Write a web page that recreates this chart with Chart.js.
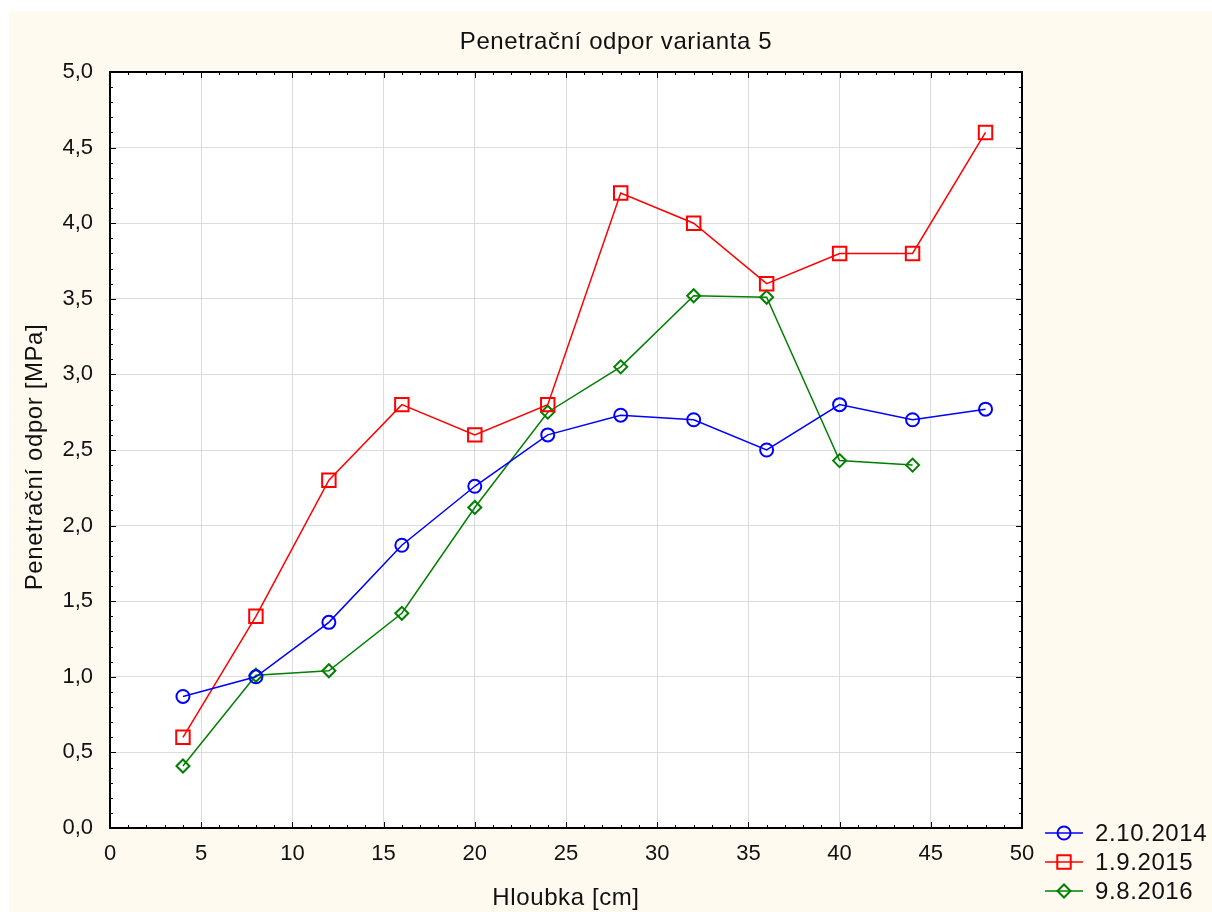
<!DOCTYPE html>
<html>
<head>
<meta charset="utf-8">
<script src="https://cdn.jsdelivr.net/npm/chart.js@4.4.0/dist/chart.umd.min.js"></script>
<style>
    body { margin: 0; background: #ffffff; }
    canvas { display: block; }
</style>
</head>
<body>
<canvas id="canvas" width="1212" height="912"></canvas>
<script>
const depth = [4, 8, 12, 16, 20, 24, 28, 32, 36, 40, 44, 48];
const odpor2014 = [0.87, 1.0, 1.36, 1.87, 2.26, 2.6, 2.73, 2.7, 2.5, 2.8, 2.7, 2.77];
const odpor2015 = [0.6, 1.4, 2.3, 2.8, 2.6, 2.8, 4.2, 4.0, 3.6, 3.8, 3.8, 4.6];
const odpor2016 = [0.41, 1.01, 1.04, 1.42, 2.12, 2.75, 3.05, 3.52, 3.51, 2.43, 2.4];
const seriesNames = ['2.10.2014', '1.9.2015', '9.8.2016'];

const titleText = 'Penetrační odpor varianta 5';
const xTitle = 'Hloubka [cm]';
const yTitle = 'Penetrační odpor [MPa]';

const font = "'Liberation Sans', Arial, sans-serif";
const textFont = '24px ' + font;

function toPoints(values) {
    return values.map((v, i) => ({ x: depth[i], y: v }));
}

function marker(ctx, style, x, y, r) {
    ctx.beginPath();
    if (style === 'circle') {
        ctx.arc(x, y, r, 0, Math.PI * 2);
    } else if (style === 'rect') {
        const s = r * Math.SQRT1_2;
        ctx.rect(x - s, y - s, 2 * s, 2 * s);
    } else {
        ctx.moveTo(x - r, y);
        ctx.lineTo(x, y - r);
        ctx.lineTo(x + r, y);
        ctx.lineTo(x, y + r);
        ctx.closePath();
    }
    ctx.stroke();
}

// frame, background, inward ticks on all four sides, titles and legend
const framePlugin = {
    id: 'frame',
    beforeDraw(chart) {
        const ctx = chart.ctx;
        const a = chart.chartArea;
        ctx.save();
        ctx.fillStyle = '#ffffff';
        ctx.fillRect(0, 0, chart.width, chart.height);
        ctx.fillStyle = '#fffaf0';
        ctx.fillRect(9, 11, chart.width - 9, chart.height - 11);
        ctx.fillStyle = '#ffffff';
        ctx.fillRect(a.left, a.top, a.right - a.left, a.bottom - a.top);
        ctx.restore();
    },
    afterDraw(chart) {
        const ctx = chart.ctx;
        const a = chart.chartArea;
        const xs = chart.scales.x;
        const ys = chart.scales.y;
        ctx.save();
        ctx.strokeStyle = '#000000';
        ctx.lineWidth = 1;
        ctx.beginPath();
        for (let v = 0; v <= 50; v++) {
            const px = Math.round(xs.getPixelForValue(v)) + 0.5;
            const len = v % 5 === 0 ? 6 : 3;
            ctx.moveTo(px, a.bottom);
            ctx.lineTo(px, a.bottom - len);
            ctx.moveTo(px, a.top);
            ctx.lineTo(px, a.top + len);
        }
        for (let k = 0; k <= 50; k++) {
            const py = Math.round(ys.getPixelForValue(k / 10)) + 0.5;
            const len = k % 5 === 0 ? 6 : 3;
            ctx.moveTo(a.left, py);
            ctx.lineTo(a.left + len, py);
            ctx.moveTo(a.right, py);
            ctx.lineTo(a.right - len, py);
        }
        ctx.stroke();
        ctx.lineWidth = 2;
        ctx.strokeRect(a.left, a.top, a.right - a.left, a.bottom - a.top);

        ctx.fillStyle = '#111111';
        ctx.font = textFont;
        ctx.letterSpacing = '0.6px';
        ctx.textAlign = 'center';
        ctx.textBaseline = 'middle';
        ctx.fillText(titleText, 616, 42);
        ctx.fillText(xTitle, (a.left + a.right) / 2, 898);

        ctx.save();
        ctx.translate(35, 457);
        ctx.rotate(-Math.PI / 2);
        ctx.fillText(yTitle, 0, 0);
        ctx.restore();

        // legend
        ctx.textAlign = 'left';
        chart.data.datasets.forEach((ds, i) => {
            const y = 833 + i * 29;
            ctx.strokeStyle = ds.borderColor;
            ctx.lineWidth = 1.5;
            ctx.beginPath();
            ctx.moveTo(1045, y);
            ctx.lineTo(1083, y);
            ctx.stroke();
            ctx.lineWidth = 2;
            marker(ctx, ds.pointStyle, 1064, y, ds.pointRadius);
            ctx.fillStyle = '#111111';
            ctx.fillText(ds.label, 1095, y + 1);
        });
        ctx.restore();
    },
};

new Chart('canvas', {
    type: 'scatter',
    data: {
        datasets: [
            {
                label: seriesNames[0],
                data: toPoints(odpor2014),
                borderColor: '#0000ff',
                pointStyle: 'circle',
                pointRadius: 6.5,
            },
            {
                label: seriesNames[1],
                data: toPoints(odpor2015),
                borderColor: '#ff0000',
                pointStyle: 'rect',
                pointRadius: 9.5,
            },
            {
                label: seriesNames[2],
                data: toPoints(odpor2016),
                borderColor: '#008000',
                pointStyle: 'rectRot',
                pointRadius: 6.5,
            },
        ].map((ds) => ({
            ...ds,
            showLine: true,
            borderWidth: 1.5,
            pointBorderWidth: 2,
            pointBorderColor: ds.borderColor,
            pointBackgroundColor: 'rgba(0,0,0,0)',
            pointHoverRadius: ds.pointRadius,
        })),
    },
    options: {
        responsive: false,
        animation: false,
        events: [],
        layout: { padding: { left: 0, top: 72, right: 190, bottom: 0 } },
        plugins: {
            legend: { display: false },
            title: { display: false },
            tooltip: { enabled: false },
        },
        scales: {
            x: {
                type: 'linear',
                min: 0,
                max: 50,
                afterFit: (scale) => { scale.height = 84; },
                ticks: {
                    stepSize: 5,
                    color: '#111111',
                    padding: 13,
                    font: { family: font, size: 22 },
                },
                grid: { color: '#dcdcdc', drawTicks: false },
                border: { display: false },
            },
            y: {
                min: 0,
                max: 5,
                afterFit: (scale) => { scale.width = 110; },
                ticks: {
                    stepSize: 0.5,
                    color: '#111111',
                    padding: 17,
                    font: { family: font, size: 22 },
                    callback: (value) => value.toFixed(1).replace('.', ','),
                },
                grid: { color: '#dcdcdc', drawTicks: false },
                border: { display: false },
            },
        },
    },
    plugins: [framePlugin],
});
</script>
</body>
</html>
